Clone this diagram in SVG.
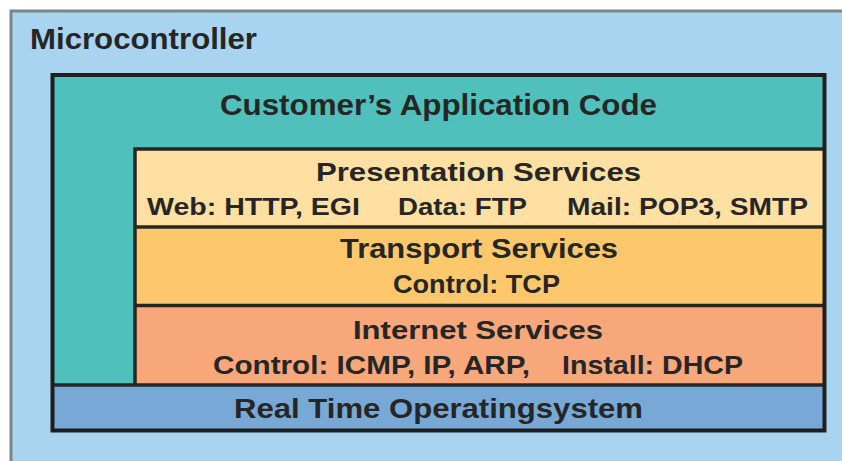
<svg xmlns="http://www.w3.org/2000/svg" width="842" height="461" viewBox="0 0 842 461">
  <style>
    .t { font-family: "Liberation Sans", Arial, sans-serif; font-weight: bold; fill: #262626; }
    .sep { stroke: #262626; stroke-width: 3.5; fill: none; }
  </style>
  <rect x="0" y="0" width="842" height="461" fill="#ffffff"/>
  <g id="microcontroller">
    <rect x="11" y="11" width="900" height="500" fill="#a9d4f0" stroke="#7d8388" stroke-width="3"/>
    <text class="t" x="30" y="49" font-size="29" textLength="227" lengthAdjust="spacingAndGlyphs">Microcontroller</text>
  </g>
  <g id="application">
    <rect x="52.5" y="75" width="772" height="355.5" fill="#4fc0bb"/>
    <text class="t" x="220" y="115" font-size="29" textLength="437" lengthAdjust="spacingAndGlyphs">Customer’s Application Code</text>
  </g>
  <g id="presentation">
    <rect x="135" y="149" width="689.5" height="78" fill="#fde0a2"/>
    <text class="t" x="316" y="181" font-size="25" textLength="325" lengthAdjust="spacingAndGlyphs">Presentation Services</text>
    <text class="t" x="147" y="215" font-size="23.5" textLength="213" lengthAdjust="spacingAndGlyphs">Web: HTTP, EGI</text>
    <text class="t" x="398" y="215" font-size="23.5" textLength="129" lengthAdjust="spacingAndGlyphs">Data: FTP</text>
    <text class="t" x="567" y="215" font-size="23.5" textLength="241" lengthAdjust="spacingAndGlyphs">Mail: POP3, SMTP</text>
  </g>
  <g id="transport">
    <rect x="135" y="227" width="689.5" height="78.5" fill="#fdc76c"/>
    <text class="t" x="340" y="258" font-size="27" textLength="278" lengthAdjust="spacingAndGlyphs">Transport Services</text>
    <text class="t" x="393" y="293" font-size="26" textLength="167" lengthAdjust="spacingAndGlyphs">Control: TCP</text>
  </g>
  <g id="internet">
    <rect x="135" y="305.5" width="689.5" height="79.5" fill="#f7a77a"/>
    <text class="t" x="353" y="339" font-size="26" textLength="250" lengthAdjust="spacingAndGlyphs">Internet Services</text>
    <text class="t" x="213" y="374" font-size="26" textLength="317" lengthAdjust="spacingAndGlyphs">Control: ICMP, IP, ARP,</text>
    <text class="t" x="562" y="374" font-size="26" textLength="181" lengthAdjust="spacingAndGlyphs">Install: DHCP</text>
  </g>
  <g id="rtos">
    <rect x="52.5" y="385" width="772" height="45.5" fill="#78a8d6"/>
    <text class="t" x="234" y="418" font-size="27" textLength="409" lengthAdjust="spacingAndGlyphs">Real Time Operatingsystem</text>
  </g>
  <g id="borders">
    <polyline class="sep" points="135,385 135,149 824.5,149"/>
    <line class="sep" x1="135" y1="227" x2="824.5" y2="227"/>
    <line class="sep" x1="135" y1="305.5" x2="824.5" y2="305.5"/>
    <line class="sep" x1="52.5" y1="385" x2="824.5" y2="385"/>
    <rect x="52.5" y="75" width="772" height="355.5" fill="none" stroke="#1e1e1e" stroke-width="4"/>
  </g>
</svg>
